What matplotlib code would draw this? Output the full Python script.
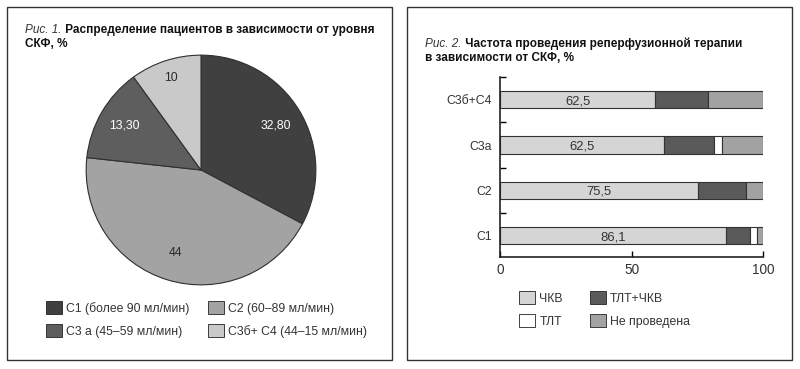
import numpy as np
import matplotlib.pyplot as plt
import matplotlib.patches as mpatches

plt.rcParams['font.family'] = ['Liberation Sans', 'DejaVu Sans']

# --- data: pie (fig. 1)
pie_groups = ['С1 (более 90 мл/мин)', 'С2 (60–89 мл/мин)',
              'С3 а (45–59 мл/мин)', 'С3б+ С4 (44–15 мл/мин)']
pie_values = [32.8, 44, 13.3, 10]
pie_labels = ['32,80', '44', '13,30', '10']
pie_colors = ['#404040', '#a3a3a3', '#5e5e5e', '#c9c9c9']
pie_text_colors = ['white', '#2a2a2a', 'white', '#2a2a2a']

# --- data: stacked bars (fig. 2)
bar_groups = ['С1', 'С2', 'С3а', 'С3б+С4']
chkv = [85.8, 75.3, 62.3, 59.0]
tlt_chkv = [9.4, 18.4, 19.0, 19.9]
tlt = [2.5, 0.0, 3.3, 0.0]
none_done = [2.3, 6.3, 15.4, 21.1]
bar_labels = ['86,1', '75,5', '62,5', '62,5']
series_names = ['ЧКВ', 'ТЛТ+ЧКВ', 'ТЛТ', 'Не проведена']
series_colors = ['#d5d5d5', '#5a5a5a', '#ffffff', '#a2a2a2']

W, H = 800, 369
fig = plt.figure(figsize=(W / 100, H / 100), dpi=100)

def fx(px):
    return px / W

def fy(py):
    return 1 - py / H

# panel frames
for x0 in (7, 407):
    fig.patches.append(mpatches.Rectangle((fx(x0), fy(360)), fx(385), 353 / H,
                                          transform=fig.transFigure, fill=False,
                                          edgecolor='#333333', lw=1.0))

def title(x, y1, y2, italic, bold1, bold2):
    t = fig.text(fx(x), fy(y1), italic, style='italic', fontsize=8.5,
                 color='#333333', va='baseline')
    plt.annotate(' ' + bold1, xy=(1, 0), xycoords=t, fontsize=8.5,
                 fontweight='bold', color='#111111', va='bottom',
                 annotation_clip=False)
    fig.text(fx(x), fy(y2), bold2, fontsize=8.5, fontweight='bold',
             color='#111111', va='baseline')

# --- pie
cx, cy, r = 201, 170, 116
axp = fig.add_axes([fx(cx - r), fy(cy + r), 2 * r / W, 2 * r / H])
wedges, _ = axp.pie(pie_values, colors=pie_colors, startangle=90,
                    counterclock=False,
                    wedgeprops=dict(edgecolor='#2f2f2f', linewidth=0.8))
axp.set_xlim(-1.01, 1.01)
axp.set_ylim(-1.01, 1.01)
axp.set_aspect('equal')
dist = [0.76, 0.76, 0.77, 0.84]
for w, lab, c, d in zip(wedges, pie_labels, pie_text_colors, dist):
    ang = np.deg2rad((w.theta1 + w.theta2) / 2)
    axp.text(d * np.cos(ang), d * np.sin(ang), lab, ha='center', va='center',
             fontsize=8.8, color=c)

title(25, 33, 47, 'Рис. 1.', 'Распределение пациентов в зависимости от уровня',
      'СКФ, %')

order = [0, 2, 1, 3]
h1 = [mpatches.Patch(facecolor=pie_colors[i], edgecolor='#222222', lw=0.6)
      for i in order]
fig.legend(h1, [pie_groups[i] for i in order], ncol=2, frameon=False,
           loc='upper left', bbox_to_anchor=(fx(40), fy(295)), fontsize=8.8,
           handlelength=1.3, handleheight=1.3, handletextpad=0.35,
           columnspacing=1.5, labelspacing=0.75, borderpad=0,
           labelcolor='#333333')

# --- bars
axb = fig.add_axes([fx(500), fy(257), 263 / W, 180 / H])
y = np.arange(len(bar_groups))
left = np.zeros(len(bar_groups))
for vals, col in zip([chkv, tlt_chkv, tlt, none_done], series_colors):
    axb.barh(y, vals, left=left, height=0.38, color=col,
             edgecolor='#333333', linewidth=0.8)
    left += np.array(vals)
for yi, v, lab in zip(y, chkv, bar_labels):
    axb.text(v / 2, yi - 0.03, lab, ha='center', va='center', fontsize=9.4,
             color='#333333')
axb.set_xlim(0, 100)
axb.set_ylim(-0.47, 3.5)
axb.set_xticks([0, 50, 100])
axb.set_yticks(y)
axb.set_yticklabels(bar_groups)
axb.set_yticks(np.arange(0.5, 4, 1), minor=True)
axb.tick_params(axis='y', which='major', length=0, pad=6, labelsize=8.8,
                labelcolor='#333333')
axb.tick_params(axis='y', which='minor', length=4, direction='in', width=1)
axb.tick_params(axis='x', length=4, direction='in', width=1, labelsize=9.8,
                labelcolor='#333333', pad=4)
for s in ['top', 'right']:
    axb.spines[s].set_visible(False)
for s in ['left', 'bottom']:
    axb.spines[s].set_linewidth(1.2)
    axb.spines[s].set_color('#222222')

title(425, 47, 61, 'Рис. 2.', 'Частота проведения реперфузионной терапии',
      'в зависимости от СКФ, %')

order2 = [0, 2, 1, 3]
h2 = [mpatches.Patch(facecolor=series_colors[i], edgecolor='#222222', lw=0.6)
      for i in order2]
fig.legend(h2, [series_names[i] for i in order2], ncol=2, frameon=False,
           loc='upper left', bbox_to_anchor=(fx(513), fy(285)), fontsize=8.8,
           handlelength=1.3, handleheight=1.3, handletextpad=0.35,
           columnspacing=2.2, labelspacing=0.75, borderpad=0,
           labelcolor='#333333')

fig.savefig('out.png', dpi=100)
